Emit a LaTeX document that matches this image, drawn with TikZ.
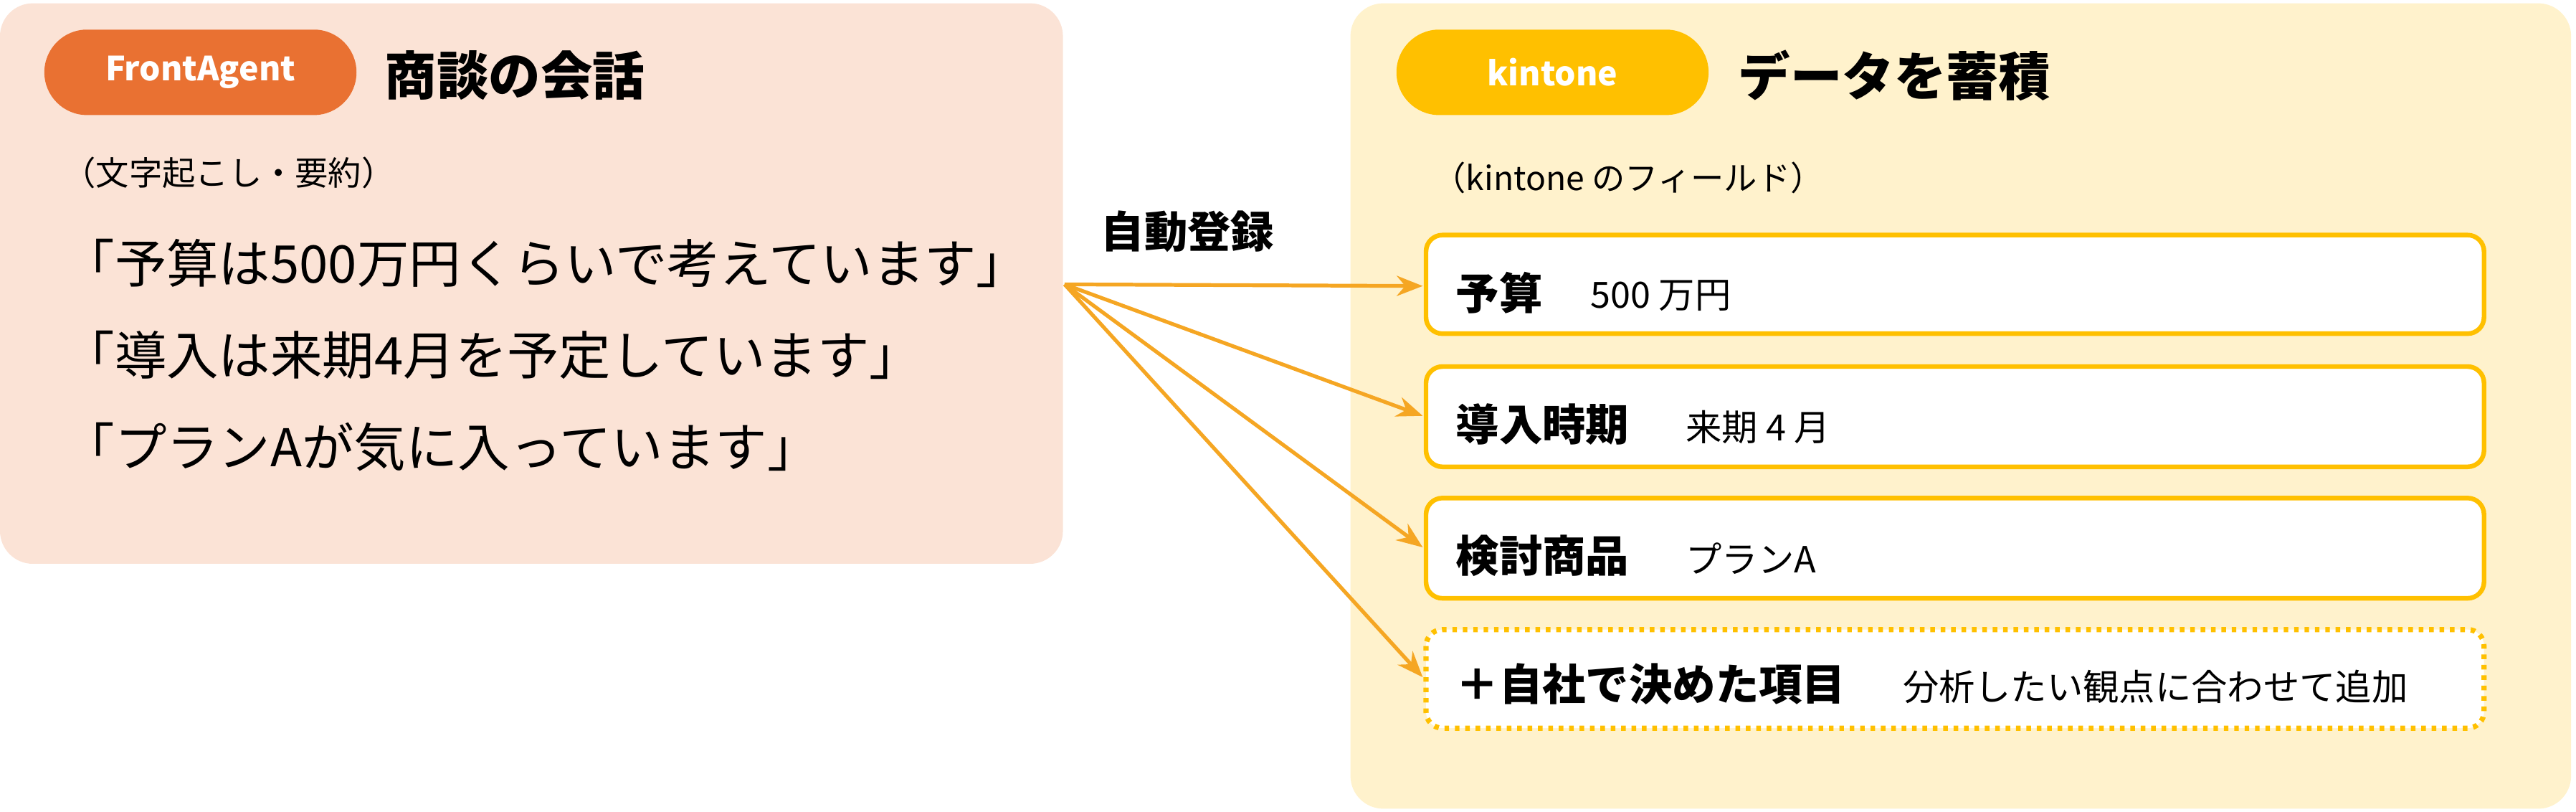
\documentclass[tikz,border=0pt]{standalone}
\usepackage{fontspec}
\setmainfont{Noto Sans CJK JP}
\usetikzlibrary{arrows.meta}
\definecolor{peach}{HTML}{FBE3D6}
\definecolor{cream}{HTML}{FFF2CC}
\definecolor{orng}{HTML}{E97132}
\definecolor{gold}{HTML}{FFC000}
\definecolor{arr}{HTML}{F5A623}
\begin{document}
\begin{tikzpicture}[x=0.02cm,y=-0.02cm,
  panel/.style={rounded corners=0.4cm,draw=none},
  pill/.style={rounded corners=0.5cm,text=white,font=\fontsize{11.5}{12}\selectfont\bfseries,align=center},
  ttl/.style={anchor=west,font=\fontsize{18}{20}\selectfont\bfseries},
  small/.style={anchor=west,font=\fontsize{11.5}{13}\selectfont},
  big/.style={anchor=west,font=\fontsize{18}{20}\selectfont},
  field/.style={draw=gold,line width=1.6pt,fill=white,rounded corners=0.2cm},
  flab/.style={anchor=west,font=\fontsize{15}{16}\selectfont\bfseries},
  fval/.style={anchor=west,font=\fontsize{12.5}{14}\selectfont},
  link/.style={draw=arr,line width=1.3pt,-{Stealth[length=9pt,width=7pt]}}]
\useasboundingbox (0,0) rectangle (1568,494);
\fill[peach,rounded corners=0.4cm] (0,2) rectangle (647,343);
\fill[cream,rounded corners=0.4cm] (822,2) rectangle (1565,492);
\fill[orng,rounded corners=0.52cm] (27,18) rectangle (217,70);
\node[text=white,font=\fontsize{11.5}{12}\selectfont\bfseries] (fa) at (122,44) {FrontAgent};
\fill[gold,rounded corners=0.52cm] (850,18) rectangle (1040,70);
\node[text=white,font=\fontsize{11.5}{12}\selectfont\bfseries] (kt) at (945,44) {kintone};
\node[ttl] (t1) at (228,46) {商談の会話};
\node[ttl] (t2) at (1052,46) {データを蓄積};
\node[small] (s1) at (32,105) {（文字起こし・要約）};
\node[big] (l1) at (32,160) {「予算は500万円くらいで考えています」};
\node[big] (l2) at (32,216) {「導入は来期4月を予定しています」};
\node[big] (l3) at (32,272) {「プランAが気に入っています」};
\node[small] (s2) at (866,108) {（kintone のフィールド）};
\node[anchor=west,font=\fontsize{15}{16}\selectfont\bfseries] (auto) at (664,141) {自動登録};
\draw[field] (868,143) rectangle (1512,203);
\draw[field] (868,223) rectangle (1512,284);
\draw[field] (868,303) rectangle (1512,364);
\draw[field,dotted,line width=1.8pt] (868,383) rectangle (1512,443);
\coordinate (src) at (648,173);
\coordinate (f1) at (866,174);
\coordinate (f2) at (866,253);
\coordinate (f3) at (866,333);
\coordinate (f4) at (866,412);
\node[flab] at (880,178) {予算};
\node[fval] at (962,180) {500 万円};
\node[flab] at (880,258) {導入時期};
\node[fval] at (1020,260) {来期 4 月};
\node[flab] at (880,338) {検討商品};
\node[fval] at (1020,340) {プランA};
\node[flab] at (880,416) {＋自社で決めた項目};
\node[fval] at (1152,418) {分析したい観点に合わせて追加};
\draw[link] (src) -- (f1);
\draw[link] (src) -- (f2);
\draw[link] (src) -- (f3);
\draw[link] (src) -- (f4);
\end{tikzpicture}
\end{document}
